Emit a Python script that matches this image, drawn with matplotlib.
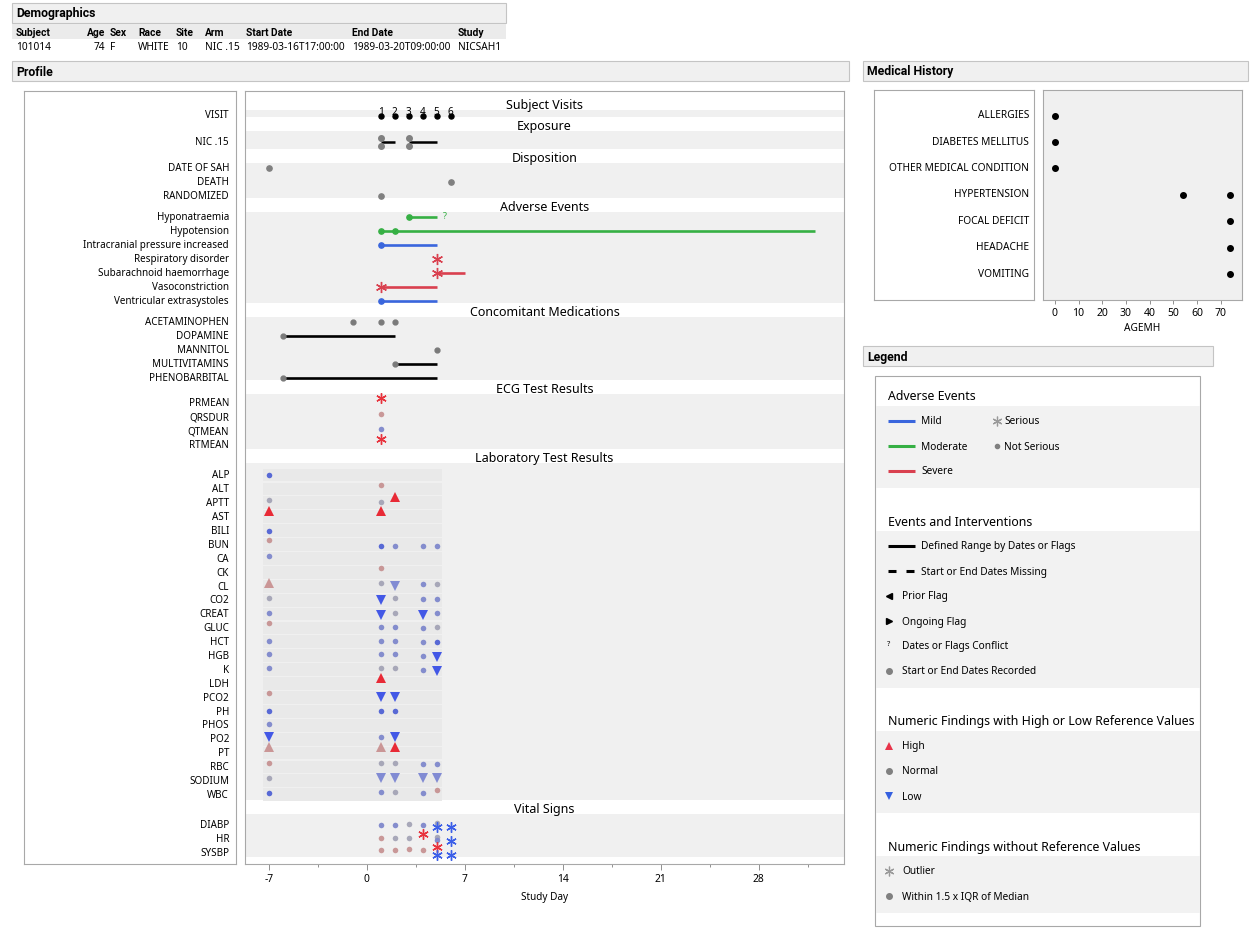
import numpy as np
import matplotlib.pyplot as plt
from matplotlib.patches import Rectangle

plt.rcParams['font.family'] = ['Noto Sans', 'DejaVu Sans']
plt.rcParams['axes.unicode_minus'] = False

W, H = 1255, 939

# ---- data ----
demo_cols = ["Subject", "Age", "Sex", "Race", "Site", "Arm", "Start Date", "End Date", "Study"]
demo_vals = ["101014", "74", "F", "WHITE", "10", "NIC .15", "1989-03-16T17:00:00",
             "1989-03-20T09:00:00", "NICSAH1"]

visit_days = [1, 2, 3, 4, 5, 6]
visit_labels = ["1", "2", "3", "4", "5", "6"]

exp_arm = "NIC .15"
exp_start = [1, 3]
exp_end = [2, 5]
exp_dot_days = [1, 1, 3, 3]

disp_terms = ["DATE OF SAH", "DEATH", "RANDOMIZED"]
disp_days = [-7, 6, 1]

ae_terms = ["Hyponatraemia", "Hypotension", "Intracranial pressure increased",
            "Respiratory disorder", "Subarachnoid haemorrhage", "Vasoconstriction",
            "Ventricular extrasystoles"]
ae_starts = [[3], [1, 2], [1], [5], [5], [1], [1]]
ae_end = [5, 32, 5, 5, 7, 5, 5]
ae_severity = ["Moderate", "Moderate", "Mild", "Severe", "Severe", "Severe", "Mild"]
ae_serious = [False, False, False, True, True, True, False]
ae_conflict = [True, False, False, False, False, False, False]

cm_terms = ["ACETAMINOPHEN", "DOPAMINE", "MANNITOL", "MULTIVITAMINS", "PHENOBARBITAL"]
cm_rec_term = ["ACETAMINOPHEN", "ACETAMINOPHEN", "ACETAMINOPHEN", "DOPAMINE", "MANNITOL",
               "MULTIVITAMINS", "PHENOBARBITAL"]
cm_rec_start = [-1, 1, 2, -6, 5, 2, -6]
cm_rec_end = [-1, 1, 2, 2, 5, 5, 5]

# findings: (day, flag, scaled value within row -1..1)
ecg_tests = ["PRMEAN", "QRSDUR", "QTMEAN", "RTMEAN"]
ecg_results = {
    "PRMEAN": [(1, "O", 0.9)],
    "QRSDUR": [(1, "p", 0.5)],
    "QTMEAN": [(1, "b", 0.3)],
    "RTMEAN": [(1, "O", 1.0)],
}

lab_tests = ["ALP", "ALT", "APTT", "AST", "BILI", "BUN", "CA", "CK", "CL", "CO2", "CREAT",
             "GLUC", "HCT", "HGB", "K", "LDH", "PCO2", "PH", "PHOS", "PO2", "PT", "RBC",
             "SODIUM", "WBC"]
lab_results = {
    "ALP": [(-7, "B", 0)],
    "ALT": [(1, "p", 0.67)],
    "APTT": [(-7, "g", 0.5), (1, "g", 0.17), (2, "H", 1.0)],
    "AST": [(-7, "H", 1.0), (1, "H", 1.0)],
    "BILI": [(-7, "B", 0)],
    "BUN": [(-7, "p", 0.67), (1, "B", -0.17), (2, "b", -0.17), (4, "b", -0.17), (5, "b", -0.17)],
    "CA": [(-7, "b", 0.33)],
    "CK": [(1, "p", 0.67)],
    "CL": [(-7, "h", 0.5), (1, "g", 0.5), (2, "l", 0.1), (4, "b", 0.4), (5, "g", 0.4)],
    "CO2": [(-7, "g", 0.33), (1, "L", 0.0), (2, "g", 0.33), (4, "b", 0.2), (5, "b", 0.2)],
    "CREAT": [(-7, "b", 0.17), (1, "L", -0.1), (2, "g", 0.17), (4, "L", -0.1), (5, "b", 0.17)],
    "GLUC": [(-7, "p", 0.8), (1, "b", 0.1), (2, "b", 0.1), (4, "b", 0.0), (5, "g", 0.1)],
    "HCT": [(-7, "b", 0.17), (1, "b", 0.17), (2, "b", 0.17), (4, "b", 0.0), (5, "B", 0.0)],
    "HGB": [(-7, "b", 0.33), (1, "b", 0.33), (2, "b", 0.33), (4, "b", 0.0), (5, "L", -0.2)],
    "K": [(-7, "b", 0.33), (1, "g", 0.33), (2, "g", 0.33), (4, "b", 0.0), (5, "L", -0.3)],
    "LDH": [(1, "H", 1.0)],
    "PCO2": [(-7, "p", 0.8), (1, "L", 0.0), (2, "L", 0.0)],
    "PH": [(-7, "B", 0.0), (1, "B", 0.0), (2, "B", 0.0)],
    "PHOS": [(-7, "b", 0.17)],
    "PO2": [(-7, "L", 0.3), (1, "b", 0.3), (2, "L", 0.3)],
    "PT": [(-7, "h", 1.0), (1, "h", 1.0), (2, "H", 1.0)],
    "RBC": [(-7, "p", 0.67), (1, "g", 0.67), (2, "g", 0.67), (4, "b", 0.5), (5, "b", 0.5)],
    "SODIUM": [(-7, "g", 0.5), (1, "l", 0.4), (2, "l", 0.4), (4, "l", 0.4), (5, "l", 0.4)],
    "WBC": [(-7, "B", 0.33), (1, "b", 0.4), (2, "g", 0.5), (4, "b", 0.33), (5, "p", 0.8)],
}

vs_tests = ["DIABP", "HR", "SYSBP"]
vs_results = {
    "DIABP": [(1, "b", 0.0), (2, "b", 0.0), (3, "g", 0.1), (4, "b", 0.0), (5, "g", 0.3),
              (5, "U", -0.3), (6, "U", -0.4)],
    "HR": [(1, "p", 0.2), (2, "g", 0.2), (3, "g", 0.2), (4, "O", 0.8), (5, "g", 0.3),
           (5, "b", -0.2), (6, "U", -0.3)],
    "SYSBP": [(1, "p", 0.5), (2, "p", 0.5), (3, "p", 0.6), (4, "p", 0.5), (5, "O", 1.0),
              (5, "U", -0.33), (6, "U", -0.33)],
}

mh_terms = ["ALLERGIES", "DIABETES MELLITUS", "OTHER MEDICAL CONDITION", "HYPERTENSION",
            "FOCAL DEFICIT", "HEADACHE", "VOMITING"]
mh_rec_term = ["ALLERGIES", "DIABETES MELLITUS", "OTHER MEDICAL CONDITION", "HYPERTENSION",
               "HYPERTENSION", "FOCAL DEFICIT", "HEADACHE", "VOMITING"]
mh_rec_age = [0, 0, 0, 54, 74, 74, 74, 74]

# ---- styles ----
AST = (6, 2, 0)
SEV_COL = {"Mild": "#3a66dd", "Moderate": "#36b044", "Severe": "#d9404f"}
FLAG_STYLE = {
    "b": ("o", "#7f88cc", 4.0),
    "B": ("o", "#5062d4", 4.0),
    "g": ("o", "#a4a4b6", 4.0),
    "p": ("o", "#c79393", 4.0),
    "H": ("^", "#e8202c", 6.5),
    "h": ("^", "#c99292", 6.5),
    "L": ("v", "#3a50e6", 6.5),
    "l": ("v", "#7c86d2", 6.5),
    "O": (AST, "#e8333d", 7.5),
    "U": (AST, "#3c5fe8", 7.5),
}
BAND = "#f0f0f0"
EDGE = "#a8a8a8"
FS_ROW = 7.1
BOLD = ['Roboto', 'DejaVu Sans']


def fbox(x0, y0, x1, y1):
    return [x0 / W, 1 - y1 / H, (x1 - x0) / W, (y1 - y0) / H]


fig = plt.figure(figsize=(W / 100, H / 100), dpi=100)

# overlay in pixel coordinates for headers, tables and legend
ov = fig.add_axes([0, 0, 1, 1], zorder=0)
ov.set_xlim(0, W)
ov.set_ylim(H, 0)
ov.axis("off")


def header(x0, y0, x1, y1, text):
    ov.add_patch(Rectangle((x0, y0), x1 - x0, y1 - y0, facecolor=BAND, edgecolor="#c4c4c4", lw=0.8))
    ov.text(x0 + 4, (y0 + y1) / 2 + 1, text, fontsize=8.8, fontweight="bold", va="center",
            family=BOLD)


header(12, 3, 506, 23, "Demographics")
header(12, 61, 849, 81, "Profile")
header(863, 61, 1248, 81, "Medical History")
header(863, 346, 1213, 366, "Legend")

# demographics table
ov.add_patch(Rectangle((12, 24), 494, 15, facecolor="#ebebeb", edgecolor="none"))
col_x = [16, 105, 110, 138, 176, 205, 246, 352, 458]
for i, (c, v) in enumerate(zip(demo_cols, demo_vals)):
    ha = "right" if c == "Age" else "left"
    ov.text(col_x[i], 32.5, c, fontsize=7.4, fontweight="bold", ha=ha, va="center", family=BOLD)
    ov.text(col_x[i], 47.5, v, fontsize=7.3, ha=ha, va="center")

# ---- profile layout ----
sections = [
    ("Subject Visits", ["VISIT"], 4.5, 2.5, 14),
    ("Exposure", [exp_arm], 11, 7, 14),
    ("Disposition", disp_terms, 4.5, 2.5, 14),
    ("Adverse Events", ae_terms, 4.5, 2.5, 14),
    ("Concomitant Medications", cm_terms, 4.5, 2.5, 14),
    ("ECG Test Results", ecg_tests, 9, 4, 14),
    ("Laboratory Test Results", lab_tests, 12, 5, 13.9),
    ("Vital Signs", vs_tests, 11, 4, 14),
]
row_y = {}
bands = []
top = 110
for title, rows, pt, pb, step in sections:
    ys = top + pt + step * np.arange(len(rows))
    for r, y in zip(rows, ys):
        row_y[(title, r)] = y
    bottom = ys[-1] + pb
    bands.append((title, top, bottom))
    top = bottom + 14

YB, YT = 864, 91
ax = fig.add_axes(fbox(245, YT, 844, YB), zorder=2)
ax.set_xlim(-8.7, 34.1)
ax.set_ylim(YB, YT)
axl = fig.add_axes(fbox(24, YT, 236, YB), zorder=2)
axl.set_ylim(YB, YT)
axl.set_xticks([])
axl.set_yticks([])
for a in (ax, axl):
    for s in a.spines.values():
        s.set_color(EDGE)
        s.set_linewidth(0.8)

for title, b0, b1 in bands:
    ax.axhspan(b0, b1, color=BAND, lw=0, zorder=0)
    ax.text(0.5, b0 - 1.2, title, transform=ax.get_yaxis_transform(), ha="center",
            va="baseline", fontsize=9)
for (title, r), y in row_y.items():
    axl.text(0.967, y + 0.8, r, transform=axl.get_yaxis_transform(), ha="right", va="center",
             fontsize=FS_ROW)

# subject visits
yv = row_y[("Subject Visits", "VISIT")]
ax.plot(visit_days, [yv + 1.5] * len(visit_days), "o", color="black", ms=3.6, zorder=3)
for d, lab in zip(visit_days, visit_labels):
    ax.text(d, yv + 0.8, lab, ha="center", va="baseline", fontsize=7.2)

# exposure
ye = row_y[("Exposure", exp_arm)]
for s, e in zip(exp_start, exp_end):
    ax.plot([s, e], [ye, ye], color="black", lw=1.8, solid_capstyle="butt", zorder=2)
for d in sorted(set(exp_dot_days)):
    n = exp_dot_days.count(d)
    offs = np.linspace(-4, 4, n) if n > 1 else [0]
    for o in offs:
        ax.plot(d, ye + o, "o", color="#808080", ms=4, zorder=3)

# disposition
for t, d in zip(disp_terms, disp_days):
    ax.plot(d, row_y[("Disposition", t)], "o", color="#808080", ms=3.8, zorder=3)

# adverse events
for t, st, e, sev, ser, conf in zip(ae_terms, ae_starts, ae_end, ae_severity, ae_serious, ae_conflict):
    y = row_y[("Adverse Events", t)]
    col = SEV_COL[sev]
    ax.plot([min(st), e], [y, y], color=col, lw=1.9, solid_capstyle="butt", zorder=2)
    for s in st:
        if ser:
            ax.plot(s, y, marker=AST, color=col, ms=8, mew=1.0, zorder=3)
        else:
            ax.plot(s, y, "o", color=col, ms=3.8, zorder=3)
    if conf:
        ax.text(e + 0.6, y, "?", color=col, fontsize=6.5, ha="center", va="center")

# concomitant medications
for t, s, e in zip(cm_rec_term, cm_rec_start, cm_rec_end):
    y = row_y[("Concomitant Medications", t)]
    if e > s:
        ax.plot([s, e], [y, y], color="black", lw=1.9, solid_capstyle="butt", zorder=2)
    ax.plot(s, y, "o", color="#7a7a7a", ms=3.5, zorder=3)

# lab shaded grid behind findings
lab_days = [d for pts in lab_results.values() for d, _, _ in pts]
lx0, lx1 = min(lab_days) - 0.4, max(lab_days) + 0.35
for t in lab_tests:
    y = row_y[("Laboratory Test Results", t)]
    ax.add_patch(Rectangle((lx0, y - 6.4), lx1 - lx0, 12.8, facecolor="#e9e9e9",
                           edgecolor="none", zorder=0.5))


def draw_findings(section, results):
    for t, pts in results.items():
        y0 = row_y[(section, t)]
        for d, flag, v in pts:
            m, c, ms = FLAG_STYLE[flag]
            y = y0 - v * 6
            if m == AST:
                ax.plot(d, y, marker=m, color=c, ms=ms, mew=1.0, zorder=3)
            else:
                ax.plot(d, y, marker=m, color=c, ms=ms, mew=0, alpha=0.95, zorder=3)


draw_findings("ECG Test Results", ecg_results)
draw_findings("Laboratory Test Results", lab_results)
draw_findings("Vital Signs", vs_results)

ax.set_yticks([])
ax.set_xticks([-7, 0, 7, 14, 21, 28])
ax.set_xticks(np.arange(-3.5, 34, 7), minor=True)
ax.tick_params(axis="x", which="major", length=4, width=0.7, color="#909090", labelsize=7.4, pad=3)
ax.tick_params(axis="x", which="minor", length=2.5, width=0.7, color="#909090")
ax.set_xlabel("Study Day", fontsize=7.2, labelpad=5)

# ---- medical history ----
axm = fig.add_axes(fbox(1043, 90, 1242, 300), zorder=2)
axm.set_facecolor(BAND)
axml = fig.add_axes(fbox(874, 90, 1034, 300), zorder=2)
for a in (axm, axml):
    a.set_ylim(6.98, -0.97)
    for s in a.spines.values():
        s.set_color(EDGE)
        s.set_linewidth(0.8)
axml.set_xticks([])
axml.set_yticks([])
for i, t in enumerate(mh_terms):
    axml.text(0.969, i, t, transform=axml.get_yaxis_transform(), ha="right", va="center",
              fontsize=7.3)
axm.plot(mh_rec_age, [mh_terms.index(t) for t in mh_rec_term], "o", color="black", ms=4)
axm.set_xlim(-5, 79)
axm.set_xticks(np.arange(0, 71, 10))
axm.set_yticks([])
axm.tick_params(axis="x", length=3, width=0.7, color="#909090", labelsize=7.5, pad=3)
axm.set_xlabel("AGEMH", fontsize=7.3, labelpad=3)

# ---- legend ----
ov.add_patch(Rectangle((875, 376), 325, 550, facecolor="white", edgecolor=EDGE, lw=0.8))
leg_bands = [(406, 488), (531, 688), (731, 813), (856, 913)]
for b0, b1 in leg_bands:
    ov.add_patch(Rectangle((876, b0), 323.5, b1 - b0, facecolor="#f2f2f2", edgecolor="none"))
leg_titles = [(396, "Adverse Events"), (521, "Events and Interventions"),
              (721, "Numeric Findings with High or Low Reference Values"),
              (846, "Numeric Findings without Reference Values")]
for y, t in leg_titles:
    ov.text(888, y + 1, t, fontsize=8.9, va="center")
FS_LEG = 7.3
for y, sev in zip([421, 446, 471], ["Mild", "Moderate", "Severe"]):
    ov.plot([888, 915], [y, y], color=SEV_COL[sev], lw=2.2, solid_capstyle="butt")
    ov.text(921, y + 1, sev, fontsize=FS_LEG, va="center")
ov.plot(997, 421, marker=AST, color="#9a9a9a", ms=7, mew=0.9)
ov.text(1004, 422, "Serious", fontsize=FS_LEG, va="center")
ov.plot(997, 446, "o", color="#808080", ms=3)
ov.text(1004, 447, "Not Serious", fontsize=FS_LEG, va="center")

ov.plot([888, 915], [546, 546], color="black", lw=2.2, solid_capstyle="butt")
ov.text(921, 547, "Defined Range by Dates or Flags", fontsize=FS_LEG, va="center")
ov.plot([888, 896], [571, 571], color="black", lw=2.2, solid_capstyle="butt")
ov.plot([906, 914], [571, 571], color="black", lw=2.2, solid_capstyle="butt")
ov.text(921, 572, "Start or End Dates Missing", fontsize=FS_LEG, va="center")
ov.plot(889, 596, "<", color="black", ms=4.5)
ov.text(902, 597, "Prior Flag", fontsize=FS_LEG, va="center")
ov.plot(889, 621, ">", color="black", ms=4.5)
ov.text(902, 622, "Ongoing Flag", fontsize=FS_LEG, va="center")
ov.text(889, 645, "?", fontsize=5.5, ha="center", va="center")
ov.text(902, 647, "Dates or Flags Conflict", fontsize=FS_LEG, va="center")
ov.plot(889, 671, "o", color="#808080", ms=4)
ov.text(902, 672, "Start or End Dates Recorded", fontsize=FS_LEG, va="center")

ov.plot(889, 746, "^", color="#e8344a", ms=6, mew=0)
ov.text(902, 747, "High", fontsize=FS_LEG, va="center")
ov.plot(889, 771, "o", color="#808080", ms=4)
ov.text(902, 772, "Normal", fontsize=FS_LEG, va="center")
ov.plot(889, 796, "v", color="#3560e0", ms=6, mew=0)
ov.text(902, 797, "Low", fontsize=FS_LEG, va="center")

ov.plot(889, 871, marker=AST, color="#9a9a9a", ms=7, mew=0.9)
ov.text(902, 872, "Outlier", fontsize=FS_LEG, va="center")
ov.plot(889, 896, "o", color="#808080", ms=4)
ov.text(902, 897, "Within 1.5 x IQR of Median", fontsize=FS_LEG, va="center")

fig.savefig("out.png", dpi=100)
